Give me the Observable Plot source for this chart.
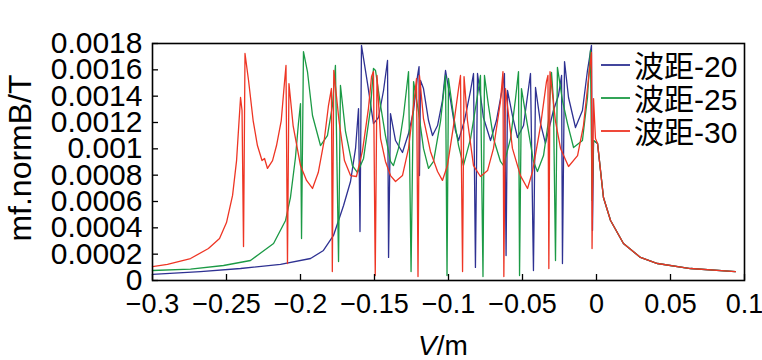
<!DOCTYPE html>
<html><head><meta charset="utf-8">
<script src="https://cdn.jsdelivr.net/npm/d3@7"></script>
<script src="https://cdn.jsdelivr.net/npm/@observablehq/plot@0.6"></script>
<style>body{margin:0;background:#fff}</style>
</head><body><div id="chart"></div>
<script>
const seriesNames = ["波距-20", "波距-25", "波距-30"];
const seriesColors = ["#2e3192", "#1b9a45", "#ee3524"];
const xTicks = [-0.3, -0.25, -0.2, -0.15, -0.1, -0.05, 0, 0.05, 0.1];
const yTicks = [0, 0.0002, 0.0004, 0.0006, 0.0008, 0.001, 0.0012, 0.0014, 0.0016, 0.0018];

// 波距-20 (blue)
const wave20 = [
  [-0.3, 0.000046], [-0.2676, 0.000068], [-0.2405, 0.000091], [-0.2135, 0.000122], [-0.1932, 0.000167],
  [-0.1845, 0.000228], [-0.1777, 0.000342], [-0.1709, 0.00057], [-0.1662, 0.000752], [-0.1628, 0.001003],
  [-0.1608, 0.001306], [-0.1598, 0.000372], [-0.1588, 0.001785], [-0.1547, 0.001496], [-0.1507, 0.001192],
  [-0.1473, 0.001238], [-0.1439, 0.001443], [-0.1412, 0.001671], [-0.1405, 0.000175], [-0.1392, 0.001268],
  [-0.1358, 0.001063], [-0.1311, 0.000972], [-0.127, 0.001116], [-0.1236, 0.001291], [-0.1209, 0.001557],
  [-0.1199, 0.001625], [-0.1196, 0.000797], [-0.1189, 0.001519], [-0.1169, 0.001458], [-0.1135, 0.001215],
  [-0.1108, 0.001101], [-0.1074, 0.001177], [-0.1041, 0.001367], [-0.102, 0.001595], [-0.0986, 0.001367],
  [-0.0953, 0.001139], [-0.0932, 0.001063], [-0.0892, 0.001215], [-0.0851, 0.001443], [-0.0831, 0.001572],
  [-0.0818, 0.000099], [-0.0804, 0.001572], [-0.0764, 0.001238], [-0.0716, 0.001063], [-0.0676, 0.001215],
  [-0.0635, 0.001466], [-0.0622, 0.001572], [-0.0611, 0.00019], [-0.0601, 0.001443], [-0.0568, 0.001253],
  [-0.0534, 0.001086], [-0.0493, 0.001177], [-0.0446, 0.001572], [-0.0426, 0.000076], [-0.0412, 0.001466],
  [-0.0378, 0.001192], [-0.0345, 0.001041], [-0.0291, 0.001291], [-0.0257, 0.001405], [-0.0236, 0.001557],
  [-0.023, 0.000129], [-0.0216, 0.001663], [-0.0189, 0.00139], [-0.0142, 0.001162], [-0.0095, 0.001291],
  [-0.0061, 0.001595], [-0.0034, 0.001785], [-0.0027, 0.00038], [-0.002, 0.001063], [0.0007, 0.001041],
  [0.0047, 0.00063], [0.0095, 0.000456], [0.0182, 0.000281], [0.0297, 0.000175], [0.0412, 0.000129],
  [0.0635, 0.000091], [0.0939, 0.000068]
];

// 波距-25 (green)
const wave25 = [
  [-0.3, 0.000076], [-0.2743, 0.000087], [-0.252, 0.000114], [-0.2338, 0.000152], [-0.2182, 0.000281],
  [-0.2101, 0.000456], [-0.2068, 0.00063], [-0.2034, 0.000934], [-0.2014, 0.001192], [-0.2, 0.001344],
  [-0.1993, 0.000319], [-0.198, 0.001739], [-0.1953, 0.001587], [-0.1919, 0.001253], [-0.1865, 0.001025],
  [-0.1818, 0.001101], [-0.1784, 0.001329], [-0.1764, 0.001633], [-0.1743, 0.000144], [-0.173, 0.001481],
  [-0.1696, 0.001132], [-0.1649, 0.000873], [-0.1615, 0.00082], [-0.1574, 0.000927], [-0.1527, 0.001306],
  [-0.1507, 0.00161], [-0.1493, 0.001595], [-0.1459, 0.001329], [-0.1426, 0.001101], [-0.1392, 0.000904],
  [-0.1372, 0.000873], [-0.1338, 0.001003], [-0.1304, 0.001253], [-0.127, 0.001587], [-0.1253, 0.000068],
  [-0.1236, 0.001511], [-0.1203, 0.001284], [-0.1169, 0.001003], [-0.1135, 0.000851], [-0.1101, 0.000904],
  [-0.1054, 0.001208], [-0.102, 0.001557], [-0.101, 0.000038], [-0.1, 0.001534], [-0.0966, 0.001253],
  [-0.0932, 0.001025], [-0.0899, 0.000873], [-0.0851, 0.001078], [-0.0804, 0.001405], [-0.0784, 0.001557],
  [-0.0767, 0.00003], [-0.0757, 0.001557], [-0.073, 0.001329], [-0.0696, 0.001078], [-0.0649, 0.000904],
  [-0.0628, 0.000873], [-0.0581, 0.001078], [-0.0547, 0.001382], [-0.0527, 0.001587], [-0.052, 0.000038],
  [-0.0507, 0.001458], [-0.0466, 0.001177], [-0.0426, 0.000904], [-0.0399, 0.000828], [-0.0358, 0.000949],
  [-0.0324, 0.001215], [-0.0304, 0.00158], [-0.0291, 0.001367], [-0.0277, 0.000152], [-0.0264, 0.001618],
  [-0.023, 0.001367], [-0.0196, 0.001192], [-0.0155, 0.00101], [-0.0095, 0.001063], [-0.0061, 0.00139],
  [-0.0041, 0.001747], [-0.003, 0.000608], [-0.002, 0.001063], [0.0007, 0.001041], [0.0047, 0.00063],
  [0.0095, 0.000456], [0.0182, 0.000281], [0.0297, 0.000175], [0.0412, 0.000129], [0.0635, 0.000091],
  [0.0939, 0.000068]
];

// 波距-30 (red)
const wave30 = [
  [-0.3, 0.000106], [-0.2899, 0.000122], [-0.2743, 0.000167], [-0.2622, 0.000243], [-0.2547, 0.000319],
  [-0.25, 0.00044], [-0.2459, 0.000646], [-0.2432, 0.000911], [-0.2415, 0.001215], [-0.2405, 0.00139],
  [-0.2395, 0.001291], [-0.2385, 0.000258], [-0.2375, 0.001724], [-0.2351, 0.001519], [-0.232, 0.001215],
  [-0.2291, 0.001025], [-0.226, 0.000911], [-0.2243, 0.000927], [-0.2223, 0.000851], [-0.2189, 0.000911],
  [-0.2162, 0.001025], [-0.213, 0.001215], [-0.211, 0.001481], [-0.2098, 0.001633], [-0.2088, 0.000129],
  [-0.2078, 0.001496], [-0.205, 0.001177], [-0.2, 0.000873], [-0.1959, 0.00076], [-0.1919, 0.000699],
  [-0.188, 0.00082], [-0.184, 0.001063], [-0.1811, 0.001329], [-0.1791, 0.001458], [-0.1785, 0.000068],
  [-0.1775, 0.001595], [-0.174, 0.001215], [-0.1703, 0.000911], [-0.1662, 0.000797], [-0.1622, 0.00079],
  [-0.1581, 0.000987], [-0.1541, 0.001306], [-0.152, 0.001549], [-0.1507, 0.001587], [-0.1495, 0.000038],
  [-0.1483, 0.001557], [-0.1459, 0.001078], [-0.1426, 0.000904], [-0.1392, 0.000797], [-0.1358, 0.000752],
  [-0.1311, 0.000797], [-0.127, 0.001003], [-0.1236, 0.001329], [-0.1216, 0.001534], [-0.1206, 0.00003],
  [-0.1196, 0.001557], [-0.1169, 0.00123], [-0.1122, 0.00098], [-0.1074, 0.000828], [-0.1041, 0.00076],
  [-0.1007, 0.000873], [-0.0966, 0.001177], [-0.0932, 0.001458], [-0.0919, 0.001557], [-0.0905, 0.000068],
  [-0.0895, 0.001549], [-0.0872, 0.001215], [-0.0831, 0.000873], [-0.0784, 0.00079], [-0.0736, 0.000835],
  [-0.0696, 0.001003], [-0.0649, 0.00136], [-0.0632, 0.001587], [-0.0626, 0.00003], [-0.0615, 0.001458],
  [-0.0568, 0.001003], [-0.0514, 0.000797], [-0.0466, 0.000699], [-0.0432, 0.000828], [-0.0378, 0.001177],
  [-0.0338, 0.001511], [-0.0328, 0.001557], [-0.0322, 0.000091], [-0.0314, 0.001587], [-0.0277, 0.001208],
  [-0.0243, 0.001003], [-0.0189, 0.000866], [-0.0128, 0.000949], [-0.0088, 0.001177], [-0.0054, 0.001534],
  [-0.0041, 0.001663], [-0.0034, 0.001732], [-0.003, 0.000243], [-0.002, 0.001382], [-0.0007, 0.001078],
  [0.0007, 0.001041], [0.0047, 0.00063], [0.0095, 0.000456], [0.0182, 0.000281], [0.0297, 0.000175],
  [0.0412, 0.000129], [0.0635, 0.000091], [0.0939, 0.000068]
];

const rows = [];
[wave20, wave25, wave30].forEach((s, i) => s.forEach(([x, y]) => rows.push({x, y, series: seriesNames[i]})));

const fmtX = d => Math.abs(d) < 1e-12 ? "0" : (d < 0 ? "\u2212" : "") + String(+Math.abs(d).toFixed(2));
const fmtY = d => Math.abs(d) < 1e-12 ? "0" : String(+d.toFixed(4));

const FONT = "'Liberation Sans', Arial, 'Noto Sans CJK SC', sans-serif";

const chart = Plot.plot({
  width: 762, height: 360,
  marginLeft: 152, marginRight: 18, marginTop: 43, marginBottom: 80,
  style: {fontFamily: FONT, background: "white", color: "black", overflow: "visible"},
  x: {domain: [-0.3, 0.1]},
  y: {domain: [0, 0.0018]},
  color: {domain: seriesNames, range: seriesColors},
  marks: [
    Plot.line(rows, {x: "x", y: "y", z: "series", stroke: "series", strokeWidth: 1.3}),
    Plot.tickX(xTicks, {x: d => d, insetTop: 231, stroke: "black", strokeWidth: 1.3}),
    Plot.tickY(yTicks, {y: d => d, insetRight: 586, stroke: "black", strokeWidth: 1.3}),
    Plot.axisX({ticks: xTicks, tickFormat: fmtX, tickSize: 0, tickPadding: 13, fontSize: 27, label: null}),
    Plot.axisY({ticks: yTicks, tickFormat: fmtY, tickSize: 0, tickPadding: 10, fontSize: 30, label: null}),
    Plot.frame({stroke: "black", strokeWidth: 1.6})
  ]
});

const svg = d3.select(chart);
svg.append("text")
  .attr("transform", "translate(31,158) rotate(-90)")
  .attr("text-anchor", "middle")
  .attr("font-size", 32)
  .attr("font-family", FONT)
  .attr("fill", "black")
  .text("mf.normB/T");

const xl = svg.append("text")
  .attr("x", 443).attr("y", 355)
  .attr("text-anchor", "middle")
  .attr("font-size", 28)
  .attr("font-family", FONT)
  .attr("fill", "black");
xl.append("tspan").attr("font-style", "italic").text("V");
xl.append("tspan").text("/m");

const lg = svg.append("g").attr("font-family", FONT).attr("font-size", 30).attr("text-anchor", "start");
seriesNames.forEach((name, i) => {
  lg.append("line").attr("x1", 601).attr("x2", 630)
    .attr("y1", 65 + 33 * i).attr("y2", 65 + 33 * i)
    .attr("stroke", seriesColors[i]).attr("stroke-width", 1.8);
  lg.append("text").attr("x", 634).attr("y", 77 + 33 * i)
    .attr("text-anchor", "start").attr("fill", "black").text(name);
});

document.getElementById("chart").append(chart);
</script>
</body></html>
